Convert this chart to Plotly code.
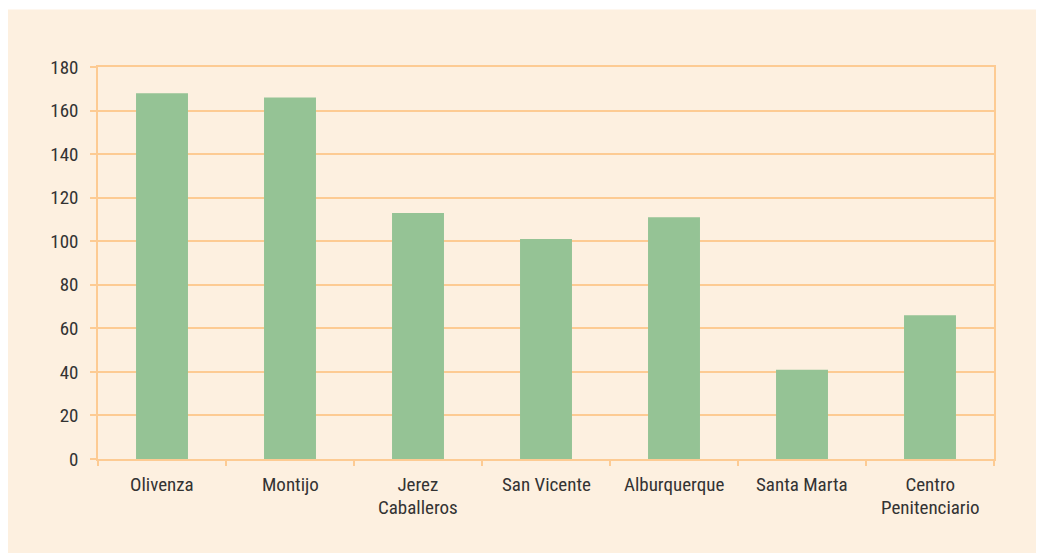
import plotly.graph_objects as go

categories = ["Olivenza", "Montijo", "Jerez Caballeros", "San Vicente",
              "Alburquerque", "Santa Marta", "Centro Penitenciario"]
label_lines = [["Olivenza"], ["Montijo"], ["Jerez", "Caballeros"], ["San Vicente"],
               ["Alburquerque"], ["Santa Marta"], ["Centro", "Penitenciario"]]
values = [168, 166, 113, 101, 111, 41, 66]
y_ticks = [0, 20, 40, 60, 80, 100, 120, 140, 160, 180]

# page has an 8px body margin, so figure coords = page coords - 8
OFF = 8
W, H = 1044 - OFF, 553 - OFF
L, R, T, B = 98 - OFF, 1044 - 994, 67 - OFF, 553 - 459
pw, ph = W - L - R, H - T - B

def px_x(px):
    return (px - OFF - L) / pw

def px_y(py):
    return (H - B - (py - OFF)) / ph

ORANGE = "#FDCB93"
PANEL = "#FDF0E0"
FAMILY = "Roboto Condensed, DejaVu Sans Condensed, sans-serif"
FONT = dict(family=FAMILY, size=19, color="#333333")

fig = go.Figure(go.Bar(x=categories, y=values, marker_color="#95C395",
                       marker_line_width=0, width=0.406))

shapes = [
    dict(type="rect", xref="paper", yref="paper", layer="below",
         x0=px_x(6), x1=px_x(1050), y0=px_y(560), y1=px_y(9.5),
         fillcolor=PANEL, line_width=0),
]

line_y = [484.5, 507]
pitch = line_y[1] - line_y[0]
annotations = []
for cat, lines in zip(categories, label_lines):
    txt = "<br>".join(f'<span style="font-size:19px">{t}</span>' for t in lines)
    cy = sum(line_y[:len(lines)]) / len(lines)
    annotations.append(dict(x=cat, xref="x", y=px_y(cy), yref="paper",
                            text=txt, showarrow=False, xanchor="center",
                            yanchor="middle",
                            font=dict(family=FAMILY, size=pitch / 1.3, color="#333333")))

fig.update_layout(
    width=W, height=H,
    margin=dict(l=L, r=R, t=T, b=B, autoexpand=False),
    paper_bgcolor="white", plot_bgcolor=PANEL,
    font=FONT, showlegend=False, shapes=shapes, annotations=annotations,
)
fig.update_xaxes(type="category", tickson="boundaries", ticks="outside", ticklen=5,
                 tickcolor=ORANGE, tickwidth=1.5, showline=True, linecolor=ORANGE,
                 linewidth=1.5, mirror=True, showgrid=False, showticklabels=False)
fig.update_yaxes(range=[0, 180], tickvals=y_ticks, ticks="outside", ticklen=6,
                 tickcolor=ORANGE, tickwidth=1.5, showgrid=True, gridcolor=ORANGE,
                 gridwidth=1.5, showline=True, linecolor=ORANGE, linewidth=1.5,
                 mirror=True, zeroline=False, tickfont=FONT, ticklabelstandoff=8)

fig.write_html("out.html")
